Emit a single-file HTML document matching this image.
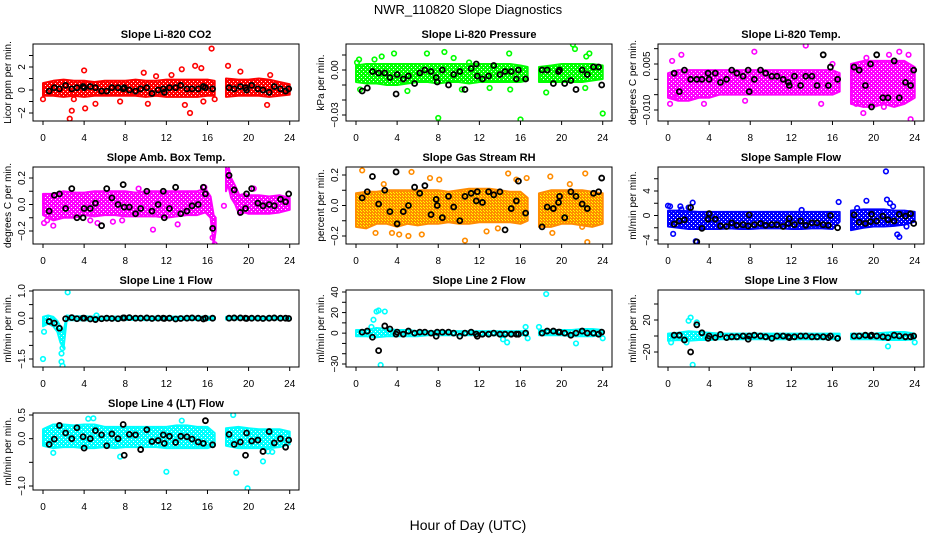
<!DOCTYPE html>
<html><head><meta charset="utf-8">
<style>
body{margin:0;background:#fff;}
svg{display:block;font-family:"Liberation Sans",Arial,sans-serif;}
</style></head>
<body>
<svg id="chart" width="936" height="540" viewBox="0 0 936 540" xmlns="http://www.w3.org/2000/svg">
<defs>
<pattern id="pat-red" width="4" height="4" patternUnits="userSpaceOnUse"><rect width="4" height="4" fill="#ff0000"/><rect x="1" y="1" width="1" height="1" fill="#fff"/><rect x="3" y="3" width="1" height="1" fill="#fff"/></pattern>
<pattern id="pat-green" width="4" height="4" patternUnits="userSpaceOnUse"><rect width="4" height="4" fill="#00ff00"/><rect x="1" y="1" width="1" height="1" fill="#fff"/><rect x="3" y="3" width="1" height="1" fill="#fff"/></pattern>
<pattern id="pat-magenta" width="4" height="4" patternUnits="userSpaceOnUse"><rect width="4" height="4" fill="#ff00ff"/><rect x="1" y="1" width="1" height="1" fill="#fff"/><rect x="3" y="3" width="1" height="1" fill="#fff"/></pattern>
<pattern id="pat-orange" width="3" height="3" patternUnits="userSpaceOnUse"><rect width="3" height="3" fill="#ff8c00"/><rect x="1" y="1" width="1" height="1" fill="#ffff00"/><rect x="0" y="0" width="1" height="1" fill="#ffff00"/></pattern>
<pattern id="pat-blue" width="4" height="4" patternUnits="userSpaceOnUse"><rect width="4" height="4" fill="#0000ff"/><rect x="1" y="1" width="1" height="1" fill="#fff"/><rect x="3" y="3" width="1" height="1" fill="#fff"/></pattern>
<pattern id="pat-cyan" width="4" height="4" patternUnits="userSpaceOnUse"><rect width="4" height="4" fill="#00ffff"/><rect x="1" y="1" width="1" height="1" fill="#fff"/><rect x="3" y="3" width="1" height="1" fill="#fff"/></pattern>
</defs>
<text x="468" y="14" font-size="13" text-anchor="middle">NWR_110820  Slope Diagnostics</text>
<text x="468" y="530" font-size="14" text-anchor="middle">Hour of Day (UTC)</text>
</svg>
<script>
// ---------- shared data ----------
const xTicks = [0,4,8,12,16,20,24];
const blackT = [0.6,1.1,1.6,2.2,2.8,3.3,3.9,4.0,4.6,5.1,5.7,6.2,6.7,7.3,7.8,7.9,8.4,9.0,9.5,10.1,10.6,11.2,11.7,11.8,12.3,12.9,13.4,14.0,14.5,15.1,15.6,15.8,16.5,18.1,18.6,19.2,19.7,19.8,20.3,20.9,21.4,22.0,22.5,23.1,23.6,23.9];
const bandT = [0,1,2,3,4,5,6,7,8,9,10,11,12,13,14,15,16,16.7,null,17.8,19,20,21,22,23,24];

// ---------- panel 1: CO2 ----------
const co2BandLo = [-0.5,-0.5,-0.6,-0.5,-0.6,-0.5,-0.5,-0.5,-0.5,-0.5,-0.6,-0.5,-0.6,-0.6,-0.6,-0.6,-0.5,-0.5,null,-0.6,-0.5,-0.5,-0.5,-0.6,-0.5,-0.4];
const co2BandHi = [0.6,0.8,0.9,0.8,0.8,0.7,0.8,0.8,0.8,0.9,0.8,0.8,0.9,0.9,0.9,0.9,0.9,0.8,null,1.0,0.9,0.9,1.0,0.9,0.7,0.5];
const co2OutT = [0,2.6,2.8,3.0,4.0,4.1,5.1,7.5,9.8,10.2,11.0,12.5,13.5,13.8,14.3,14.8,15.4,15.6,16.4,16.7,18.0,19.2,21.8,22.1];
const co2OutV = [-0.8,-2.5,-1.8,-0.8,1.7,-1.6,-1.2,-1.0,1.5,-1.2,1.2,1.3,1.8,-1.3,-2.0,2.1,1.9,-1.0,3.6,-0.8,2.1,1.6,-1.3,1.3];
const co2Black = [-0.1,0.2,0.1,0.4,0.1,0.2,0.3,0.2,0.3,0.2,-0.1,-0.1,0.2,0.2,0.1,0.2,0,-0.1,0.1,0.2,-0.3,0,0.1,-0.2,0.2,0.2,0.4,0.1,0.1,0.1,0.3,0.2,0.1,0.2,0.1,0.3,0.2,0,0.4,0.1,0,-0.2,0.3,0.1,-0.1,0.1];

// ---------- panel 2: Pressure ----------
const presBandLo = [-0.008,-0.009,-0.009,-0.010,-0.010,-0.009,-0.008,-0.008,-0.009,-0.008,-0.008,-0.009,-0.008,-0.008,-0.008,-0.008,-0.008,-0.007,null,-0.008,-0.008,-0.008,-0.008,-0.008,-0.007,-0.006];
const presBandHi = [0.003,0.004,0.004,0.004,0.004,0.004,0.004,0.004,0.004,0.004,0.004,0.004,0.004,0.004,0.004,0.004,0.003,0.002,null,0.002,0.003,0.004,0.004,0.004,0.004,0.003];
const presOutT = [0.1,0.3,0.4,1.8,2.5,3.7,5.0,6.9,8.0,8.6,9.5,10.3,11.0,13.0,14.9,15.0,16.0,18.5,21.1,21.3,22.3,22.4,22.7,24.0];
const presOutV = [0.005,0.007,-0.013,0.007,0.009,0.011,-0.014,0.011,-0.032,0.012,0.008,-0.013,0.005,-0.012,0.011,-0.013,-0.033,-0.015,0.017,0.014,-0.012,0.009,0.011,-0.029];
const presBlack = [-0.014,-0.012,-0.001,-0.002,-0.002,-0.005,-0.016,-0.003,-0.006,-0.004,-0.009,-0.002,0,-0.001,-0.005,-0.008,0,-0.010,-0.003,-0.001,-0.013,0.001,0.004,-0.004,-0.006,-0.004,0.003,-0.003,-0.001,-0.001,-0.006,0,-0.006,0,0,-0.009,-0.001,0,-0.009,-0.007,-0.013,0,-0.003,0.002,0.002,-0.010];

// ---------- panel 3: Li-820 Temp ----------
const tempBandLo = [-0.006,-0.007,-0.007,-0.006,-0.006,-0.005,-0.005,-0.005,-0.005,-0.005,-0.005,-0.005,-0.005,-0.005,-0.005,-0.005,-0.005,-0.004,null,-0.008,-0.009,-0.009,-0.008,-0.009,-0.008,-0.006];
const tempBandHi = [0.002,0.003,0.003,0.003,0.003,0.003,0.003,0.003,0.003,0.003,0.003,0.003,0.003,0.003,0.003,0.003,0.003,0.002,null,0.005,0.006,0.006,0.006,0.006,0.006,0.004];
const tempOutT = [0.2,0.4,0.8,1.3,3.5,7.5,8.4,13.4,14.9,16.0,18.3,19.0,19.3,21.0,21.5,22.5,23.4,23.6];
const tempOutV = [-0.008,0.006,-0.006,0.008,-0.008,-0.007,0.009,0.011,-0.008,0.005,-0.008,-0.011,0.007,-0.009,0.008,0.009,0.008,-0.013];
const tempBlack = [0.002,-0.004,0.003,0,0,0,0.002,0,0.002,-0.001,0,0.003,0.002,0.001,0.003,-0.004,0,0.003,0.002,0.001,0.001,0,-0.001,-0.002,0.001,-0.002,0.001,0.001,-0.002,0.008,-0.002,0.004,0,0.004,0.003,-0.002,0.005,-0.009,0.008,-0.006,-0.006,0.006,-0.006,-0.001,-0.002,0.003];

// ---------- panel 4: Amb. Box Temp ----------
const ambBandT = [0,1,2,3,4,5,6,7,8,9,10,11,12,13,14,15,15.8,16.3,16.6,16.8,null,17.8,18.0,18.3,18.7,19.1,19.6,20,21,22,23,24];
const ambBandLo = [-0.08,-0.12,-0.1,-0.1,-0.08,-0.09,-0.08,-0.08,-0.09,-0.09,-0.09,-0.09,-0.1,-0.09,-0.08,-0.08,-0.06,-0.1,-0.3,-0.2,null,0.1,0.15,0.05,0.0,-0.08,-0.06,-0.07,-0.07,-0.07,-0.06,-0.04];
const ambBandHi = [0.08,0.08,0.1,0.09,0.09,0.1,0.1,0.1,0.1,0.09,0.1,0.1,0.1,0.1,0.1,0.1,0.12,0.06,-0.08,-0.1,null,0.28,0.3,0.2,0.14,0.07,0.08,0.07,0.07,0.06,0.07,0.05];
const ambOutT = [0.1,0.4,1.0,4.6,5.3,6.8,7.7,9.3,10.7,13.1,15.7,16.5,16.7,17.6,20.5];
const ambOutV = [-0.14,-0.12,-0.16,-0.12,-0.14,-0.13,-0.12,0.12,-0.19,-0.15,0.13,-0.25,-0.3,-0.01,0.12];
const ambBlack = [-0.05,0.07,0.08,-0.03,0.12,-0.1,-0.1,-0.03,-0.03,0.01,-0.16,0.12,0.05,0,0.15,-0.02,-0.02,-0.07,-0.03,0.1,-0.05,0,0.1,-0.1,-0.03,0.13,-0.07,-0.05,-0.01,0,0.13,0.08,-0.18,0.22,0.11,-0.06,-0.03,0.08,0.12,0.01,-0.01,0,-0.01,0.04,0.02,0.08];

// ---------- panel 5: Gas Stream RH ----------
const rhBandLo = [-0.14,-0.15,-0.12,-0.12,-0.14,-0.12,-0.13,-0.12,-0.12,-0.11,-0.12,-0.12,-0.11,-0.11,-0.11,-0.11,-0.12,-0.1,null,-0.14,-0.14,-0.12,-0.12,-0.13,-0.14,-0.12];
const rhBandHi = [0.08,0.09,0.09,0.1,0.1,0.1,0.1,0.1,0.1,0.09,0.1,0.11,0.11,0.11,0.1,0.09,0.09,0.05,null,0.08,0.1,0.1,0.1,0.1,0.09,0.08];
const rhOutT = [0.6,1.9,2.7,3.5,4.2,5.1,5.4,6.4,7.2,8.1,10.6,12.7,13.8,14.8,15.6,16.6,18.9,19.1,20.8,22.0,22.3,22.5];
const rhOutV = [0.23,-0.18,0.14,-0.18,-0.19,-0.2,0.22,-0.19,0.18,0.17,-0.23,-0.17,-0.15,0.21,0.17,0.18,0.19,-0.18,0.14,-0.14,0.21,-0.24];
const rhBlack = [0.05,0.09,0.19,0.01,0.1,-0.04,0.22,-0.12,-0.04,0,0.12,0.08,0.13,-0.06,0.04,0,-0.08,0.06,-0.01,-0.1,0.06,0.08,0.03,0.09,0.02,0.09,0.07,0.09,-0.16,-0.02,0.03,0.16,-0.05,-0.14,-0.01,-0.02,0.02,0.06,-0.08,0.09,0.06,0.01,-0.02,0.08,0.09,0.18];

// ---------- panel 6: Sample Flow ----------
const sfBandLo = [-1.8,-2.0,-2.2,-2.2,-2.2,-2.2,-2.1,-2.2,-2.2,-2.1,-2.1,-2.1,-2.2,-2.2,-2.1,-2.1,-2.2,-1.0,null,-2.4,-2.0,-1.8,-1.8,-1.7,-1.5,-1.0];
const sfBandHi = [0.8,0.8,0.7,0.6,0.6,0.6,0.6,0.6,0.6,0.6,0.6,0.6,0.6,0.6,0.6,0.6,0.6,0.6,null,0.8,1.0,1.0,1.0,0.8,0.8,0.6];
const sfOutT = [0.0,0.2,0.5,1.2,1.3,2.0,2.4,2.7,13.0,16.6,18.4,19.3,21.2,21.3,21.6,21.9,22.3,22.5,23.2];
const sfOutV = [1.6,1.5,-3.0,1.5,1.0,1.3,2.1,-4.2,0.9,2.2,1.2,2.4,7.2,2.6,2.0,1.5,-3.1,-3.5,-1.8];
const sfBlack = [-1.4,-0.9,-0.7,1.3,-4.3,-2.1,-0.6,0.3,-0.6,-1.7,-1.8,-1.2,-1.6,-1.5,-1.7,0.1,-1.5,-1.3,-1.6,-1.5,-1.5,-1.8,-1.3,-0.5,-1.5,-0.9,-1.6,-1.2,-1.2,-1.5,-1.6,0,-2,0.1,-1.1,-1.3,-1,0.2,-0.9,-0.1,-0.7,-0.9,0.2,-0.1,0.3,-1.3];

// ---------- panel 7: Line 1 Flow ----------
const l1BandT = [0,0.5,1.0,1.4,1.7,2.0,2.3,3,4,5,6,7,8,9,10,11,12,13,14,15,16,16.7,null,17.8,19,20,21,22,23,24];
const l1BandLo = [-0.3,-0.2,-0.3,-0.5,-0.9,-1.1,-0.08,-0.07,-0.08,-0.07,-0.06,-0.07,-0.06,-0.06,-0.07,-0.06,-0.06,-0.06,-0.06,-0.06,-0.07,-0.05,null,-0.05,-0.05,-0.05,-0.05,-0.05,-0.05,-0.04];
const l1BandHi = [0.05,0.1,0.05,-0.1,-0.3,-0.5,0.1,0.07,0.07,0.06,0.06,0.06,0.06,0.06,0.06,0.06,0.06,0.06,0.06,0.06,0.06,0.05,null,0.05,0.05,0.05,0.05,0.05,0.05,0.04];
const l1OutT = [0.0,0.1,1.8,1.8,1.9,1.9,2.4,5.2];
const l1OutV = [-1.5,-0.5,-1.3,-1.6,-1.1,-1.75,0.95,0.1];
const l1Black = [-0.12,-0.18,-0.37,-0.02,0.02,-0.02,0,0,-0.03,-0.05,-0.02,0,-0.01,-0.02,0.01,0.01,0.02,0,0,0.01,-0.01,0,0,-0.01,0,-0.03,-0.01,0,0.01,0,-0.03,0,0,0,0.01,0.01,0,-0.01,0,0,-0.01,0,0.01,0,0,-0.01];

// ---------- panel 8: Line 2 Flow ----------
const l2BandLo = [-3,-3,-4,-3,-3,-3,-3,-2,-2,-2,-2,-2,-2,-2,-2,-2,-2,-2,null,-2,-2,-2,-3,-3,-3,-2];
const l2BandHi = [3,3,5,4,3,3,2,2,2,2,2,2,2,2,2,2,2,2,null,3,3,3,3,4,4,3];
const l2OutT = [1.5,1.7,2.0,2.2,2.4,2.8,14.3,14.7,16.5,16.7,17.8,18.5,21.4,24.0];
const l2OutV = [6,13,21,22,-31,21,-6,-9,6,-5,6,38,-10,-5];
const l2Black = [1,2,-4,-17,7,4,-1,1,-1,2,0,1,1,0,-3,1,1,1,0,-3,0,1,-1,-3,-1,-1,0,-1,-1,-1,-1,-1,0,0,2,2,1,1,0,-2,0,2,0,0,-1,1];

// ---------- panel 9: Line 3 Flow ----------
const l3BandLo = [-6,-5,-6,-5,-5,-4,-4,-4,-4,-4,-4,-4,-4,-4,-4,-4,-4,-4,null,-4,-4,-4,-5,-5,-5,-4];
const l3BandHi = [3,4,6,5,4,3,3,3,3,3,3,3,3,3,3,3,3,3,null,3,3,3,4,5,5,3];
const l3OutT = [0.3,1.8,2.0,2.2,2.4,2.8,18.5,21.4,24.0];
const l3OutV = [-8,-8,19,23,-36,17,55,-13,-8];
const l3Black = [1,1,-5,-20,14,4,-3,0,-2,2,-2,-1,-1,0,-4,0,1,0,-1,-3,0,0,-1,-2,-1,0,0,-1,-1,-1,-2,0,-3,0,0,1,0,1,0,-1,-2,1,0,-1,-1,0];

// ---------- panel 10: Line 4 (LT) Flow ----------
const l4BandLo = [-0.15,-0.2,-0.18,-0.18,-0.2,-0.2,-0.18,-0.2,-0.18,-0.18,-0.18,-0.18,-0.2,-0.2,-0.2,-0.2,-0.2,-0.15,null,-0.15,-0.2,-0.2,-0.2,-0.2,-0.18,-0.12];
const l4BandHi = [0.2,0.3,0.3,0.28,0.3,0.3,0.25,0.25,0.25,0.25,0.25,0.25,0.25,0.28,0.28,0.25,0.25,0.12,null,0.22,0.25,0.22,0.2,0.2,0.2,0.15];
const l4OutT = [1.0,4.4,4.9,7.5,12.0,13.5,18.5,18.8,19.9,21.4,21.9,22.3];
const l4OutV = [-0.3,0.42,0.43,-0.38,-0.7,0.38,0.5,-0.72,-1.05,-0.48,-0.27,-0.28];
const l4Black = [-0.12,-0.01,0.28,0.12,0,0.23,0.04,-0.2,0,0.17,0.08,-0.15,0.1,0,0.3,-0.35,0.09,0.08,-0.23,0.19,-0.06,-0.04,0.08,-0.1,0.05,-0.08,0.05,0.04,-0.01,-0.07,-0.1,0.38,-0.13,0.09,-0.12,-0.07,-0.35,0.12,-0.05,-0.03,-0.27,0.15,-0.09,0,-0.18,-0.03];

// ---------- axis ticks ----------
const co2Ticks = [-2,-1,0,1,2,3];   const co2Labels = ["-2","","0","","2",""];
const presTicks = [-0.03,-0.02,-0.01,0,0.01]; const presLabels = ["-0.03","","","0.00",""];
const tempTicks = [-0.01,-0.005,0,0.005,0.01]; const tempLabels = ["-0.010","","","0.005",""];
const ambTicks = [-0.2,-0.1,0,0.1,0.2]; const ambLabels = ["-0.2","","0.0","","0.2"];
const rhTicks = [-0.2,-0.1,0,0.1,0.2]; const rhLabels = ["-0.2","","0.0","","0.2"];
const sfTicks = [-4,-2,0,2,4,6]; const sfLabels = ["-4","","0","","4",""];
const l1Ticks = [-1.5,-1,-0.5,0,0.5,1]; const l1Labels = ["-1.5","","","0.0","","1.0"];
const l2Ticks = [-30,-20,-10,0,10,20,30,40]; const l2Labels = ["-30","","","0","","20","","40"];
const l3Ticks = [-20,0,20,40]; const l3Labels = ["-20","","20",""];
const l4Ticks = [-1,-0.5,0,0.5]; const l4Labels = ["-1.0","","0.0","0.5"];

const NS = "http://www.w3.org/2000/svg";
const svg = document.getElementById('chart');
const colLeft = [33,346,658];
const rowTop = [44,167,290,413];
const boxW = 266, boxH = 77;

function mk(tag, attrs, parent){
  const e = document.createElementNS(NS, tag);
  for (const k in attrs) e.setAttribute(k, attrs[k]);
  (parent||svg).appendChild(e);
  return e;
}

function panel(p){
  const L = colLeft[p.col], T = rowTop[p.row];
  const g = mk('g', {});
  
  
  const xs = t => L + 10 + t * 10.28;
  const k = (p.cal[3] - p.cal[1]) / (p.cal[2] - p.cal[0]);
  const ys = v => p.cal[1] + (v - p.cal[0]) * k;
  const cid = 'clip-' + p.name;
  const cp = mk('clipPath', {id: cid}, g);
  mk('rect', {x: L, y: T, width: boxW, height: boxH}, cp);
  const data = mk('g', {'clip-path': 'url(#' + cid + ')'}, g);
  const bt = p.bandT;
  let seg = [];
  const segs = [];
  for (let i = 0; i < bt.length; i++) {
    if (bt[i] === null) { if (seg.length) segs.push(seg); seg = []; }
    else seg.push(i);
  }
  if (seg.length) segs.push(seg);
  segs.forEach(s => {
    const pts = s.map(i => xs(bt[i]) + ',' + ys(p.hi[i])).concat(s.slice().reverse().map(i => xs(bt[i]) + ',' + ys(p.lo[i])));
    const poly = mk('polygon', {points: pts.join(' '), fill: 'url(#' + p.pat + ')', stroke: p.color, 'stroke-width': 2, 'stroke-linejoin': 'round'}, data);
    
    
  });
  for (let i = 0; i < p.outT.length; i++) {
    const c = mk('circle', {cx: xs(p.outT[i]), cy: ys(p.outV[i]), r: 2.3, fill: 'none', stroke: p.color, 'stroke-width': 1.6}, data);
    
    
  }
  const n = Math.min(blackT.length, p.black.length);
  for (let i = 0; i < n; i++) {
    const c = mk('circle', {cx: xs(blackT[i]), cy: ys(p.black[i]), r: 2.5, fill: 'none', stroke: '#000', 'stroke-width': 1.8}, data);
    
    
  }
  const box = mk('rect', {x: L, y: T, width: boxW, height: boxH, fill: 'none', stroke: '#000', 'stroke-width': 1}, g);
  
  
  const B = T + boxH;
  const xa = mk('g', {}, g);
  
  
  mk('line', {x1: xs(xTicks[0]), x2: xs(xTicks[xTicks.length-1]), y1: B, y2: B, stroke: '#000'}, xa);
  xTicks.forEach(t => {
    mk('line', {x1: xs(t), x2: xs(t), y1: B, y2: B + 4, stroke: '#000'}, xa);
    const tx = mk('text', {x: xs(t), y: B + 20, 'font-size': 10, 'text-anchor': 'middle'}, xa);
    tx.textContent = t;
    
    
  });
  const ya = mk('g', {}, g);
  
  
  const tk = p.ticks;
  mk('line', {x1: L, x2: L, y1: ys(tk[0]), y2: ys(tk[tk.length-1]), stroke: '#000'}, ya);
  tk.forEach((v, i) => {
    mk('line', {x1: L - 4, x2: L, y1: ys(v), y2: ys(v), stroke: '#000'}, ya);
    if (p.labels[i]) {
      const yy = ys(v), xx = L - 8;
      const tx = mk('text', {x: xx, y: yy, 'font-size': 10, 'text-anchor': 'middle', transform: 'rotate(-90 ' + xx + ' ' + yy + ')'}, ya);
      tx.textContent = p.labels[i].replace('-', '\u2212');
      
      
    }
  });
  const my = T + boxH / 2, mx = L - 22;
  const yt = mk('text', {x: mx, y: my, 'font-size': 10, 'text-anchor': 'middle', transform: 'rotate(-90 ' + mx + ' ' + my + ')'}, g);
  yt.textContent = p.ylab;
  
  
  const tt = mk('text', {x: L + boxW / 2, y: T - 6, 'font-size': 11, 'font-weight': 'bold', 'text-anchor': 'middle'}, g);
  tt.textContent = p.title;
  
  
}

panel({name:'panel-co2', col:0,row:0,title:'Slope Li-820 CO2',ylab:'Licor ppm per min.',cal:[0,90,2,67],ticks:co2Ticks,labels:co2Labels,bandT:bandT,lo:co2BandLo,hi:co2BandHi,outT:co2OutT,outV:co2OutV,black:co2Black,color:'#ff0000',pat:'pat-red'});
panel({name:'panel-pressure', col:1,row:0,title:'Slope Li-820 Pressure',ylab:'kPa per min.',cal:[0,70,-0.03,115],ticks:presTicks,labels:presLabels,bandT:bandT,lo:presBandLo,hi:presBandHi,outT:presOutT,outV:presOutV,black:presBlack,color:'#00ff00',pat:'pat-green'});
panel({name:'panel-li820-temp', col:2,row:0,title:'Slope Li-820 Temp.',ylab:'degrees C per min.',cal:[0.005,64,-0.01,110],ticks:tempTicks,labels:tempLabels,bandT:bandT,lo:tempBandLo,hi:tempBandHi,outT:tempOutT,outV:tempOutV,black:tempBlack,color:'#ff00ff',pat:'pat-magenta'});
panel({name:'panel-amb-box-temp', col:0,row:1,title:'Slope Amb. Box Temp.',ylab:'degrees C per min.',cal:[0.2,178,-0.2,231],ticks:ambTicks,labels:ambLabels,bandT:ambBandT,lo:ambBandLo,hi:ambBandHi,outT:ambOutT,outV:ambOutV,black:ambBlack,color:'#ff00ff',pat:'pat-magenta'});
panel({name:'panel-gas-stream-rh', col:1,row:1,title:'Slope Gas Stream RH',ylab:'percent per min.',cal:[0.2,175,-0.2,236],ticks:rhTicks,labels:rhLabels,bandT:bandT,lo:rhBandLo,hi:rhBandHi,outT:rhOutT,outV:rhOutV,black:rhBlack,color:'#ff8c00',pat:'pat-orange'});
panel({name:'panel-sample-flow', col:2,row:1,title:'Slope Sample Flow',ylab:'ml/min per min.',cal:[4,191,-4,240],ticks:sfTicks,labels:sfLabels,bandT:bandT,lo:sfBandLo,hi:sfBandHi,outT:sfOutT,outV:sfOutV,black:sfBlack,color:'#0000ff',pat:'pat-blue'});
panel({name:'panel-line1-flow', col:0,row:2,title:'Slope Line 1 Flow',ylab:'ml/min per min.',cal:[1,291,-1.5,359],ticks:l1Ticks,labels:l1Labels,bandT:l1BandT,lo:l1BandLo,hi:l1BandHi,outT:l1OutT,outV:l1OutV,black:l1Black,color:'#00ffff',pat:'pat-cyan'});
panel({name:'panel-line2-flow', col:1,row:2,title:'Slope Line 2 Flow',ylab:'ml/min per min.',cal:[40,292,-30,364],ticks:l2Ticks,labels:l2Labels,bandT:bandT,lo:l2BandLo,hi:l2BandHi,outT:l2OutT,outV:l2OutV,black:l2Black,color:'#00ffff',pat:'pat-cyan'});
panel({name:'panel-line3-flow', col:2,row:2,title:'Slope Line 3 Flow',ylab:'ml/min per min.',cal:[20,320,-20,352],ticks:l3Ticks,labels:l3Labels,bandT:bandT,lo:l3BandLo,hi:l3BandHi,outT:l3OutT,outV:l3OutV,black:l3Black,color:'#00ffff',pat:'pat-cyan'});
panel({name:'panel-line4-flow', col:0,row:3,title:'Slope Line 4 (LT) Flow',ylab:'ml/min per min.',cal:[0.5,415,-1,486],ticks:l4Ticks,labels:l4Labels,bandT:bandT,lo:l4BandLo,hi:l4BandHi,outT:l4OutT,outV:l4OutV,black:l4Black,color:'#00ffff',pat:'pat-cyan'});
</script>
</body></html>
